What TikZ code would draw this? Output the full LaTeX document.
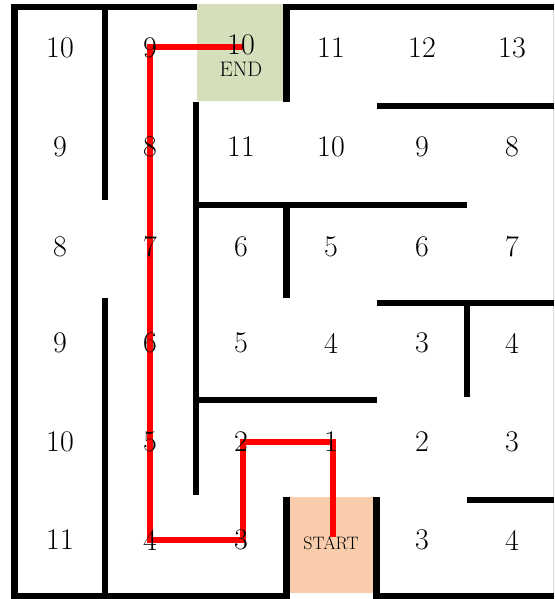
\documentclass[tikz,border=0pt]{standalone}
\begin{document}
\begin{tikzpicture}[x=1pt,y=-1pt,
  wall/.style={line width=6.5pt,black,line cap=butt},
  num/.style={font=\fontsize{30}{32}\selectfont,inner sep=0pt},
  lab/.style={font=\fontsize{21}{23}\selectfont,inner sep=0pt},
  slab/.style={font=\fontsize{18}{20}\selectfont,inner sep=0pt},
  route/.style={line width=6pt,red,line join=miter}]
\definecolor{endgreen}{RGB}{214,223,188}
\definecolor{startorange}{RGB}{249,205,172}
\useasboundingbox (0,0) rectangle (554,599);
\fill[white] (0,0) rectangle (554,599);
% coloured cells
\fill[endgreen] (197,4) rectangle (283,101);
\fill[startorange] (290,497) rectangle (373,593);
% faint right edge
\draw[gray!30,line width=0.8pt] (553.5,10) -- (553.5,593);
% outer walls
\draw[wall] (11,7) -- (197,7);
\draw[wall] (283,7) -- (554,7);
\draw[wall] (14.5,4) -- (14.5,599);
\draw[wall] (11,596) -- (290,596);
\draw[wall] (373,596) -- (554,596);
% vertical walls
\draw[wall] (105,7) -- (105,200);
\draw[wall] (105,298) -- (105,596);
\draw[wall] (196,102) -- (196,495);
\draw[wall] (286.5,7) -- (286.5,102);
\draw[wall] (286.5,202) -- (286.5,298);
\draw[wall] (286.5,497) -- (286.5,596);
\draw[wall] (376.5,497) -- (376.5,596);
\draw[wall] (467,300) -- (467,397);
% horizontal walls
\draw[wall] (377,106) -- (554,106);
\draw[wall] (193,205) -- (467,205);
\draw[wall] (377,303) -- (554,303);
\draw[wall] (193,400) -- (377,400);
\draw[wall] (467,500) -- (554,500);
% route (under the numbers)
\coordinate (pend) at (243,47);
\coordinate (p1) at (150,47);
\coordinate (p2) at (150,540);
\coordinate (p3) at (243,540);
\coordinate (p4) at (243,442);
\coordinate (p5) at (333,442);
\coordinate (pstart) at (333,537);
\draw[route] (pend) -- (p1) -- (p2) -- (p3) -- (p4) -- (p5) -- (pstart);
% row 0
\node[num] (a00) at (60,48) {10};
\node[num] (a01) at (150,48) {9};
\node[num] (a02) at (241,45) {10};
\node[lab] (endl) at (241,69) {END};
\node[num] (a03) at (331,48) {11};
\node[num] (a04) at (422,48) {12};
\node[num] (a05) at (512,48) {13};
% row 1
\node[num] (a10) at (60,147) {9};
\node[num] (a11) at (150,147) {8};
\node[num] (a12) at (241,147) {11};
\node[num] (a13) at (331,147) {10};
\node[num] (a14) at (422,147) {9};
\node[num] (a15) at (512,147) {8};
% row 2
\node[num] (a20) at (60,247) {8};
\node[num] (a21) at (150,247) {7};
\node[num] (a22) at (241,247) {6};
\node[num] (a23) at (331,247) {5};
\node[num] (a24) at (422,247) {6};
\node[num] (a25) at (512,247) {7};
% row 3
\node[num] (a30) at (60,343) {9};
\node[num] (a31) at (150,343) {6};
\node[num] (a32) at (241,343) {5};
\node[num] (a33) at (331,343) {4};
\node[num] (a34) at (422,343) {3};
\node[num] (a35) at (512,343) {4};
% row 4
\node[num] (a40) at (60,442) {10};
\node[num] (a41) at (150,442) {5};
\node[num] (a42) at (241,442) {2};
\node[num] (a43) at (331,442) {1};
\node[num] (a44) at (422,442) {2};
\node[num] (a45) at (512,442) {3};
% row 5
\node[num] (a50) at (60,540) {11};
\node[num] (a51) at (150,540) {4};
\node[num] (a52) at (241,540) {3};
\node[slab] (startl) at (331,543) {START};
\node[num] (a54) at (422,540) {3};
\node[num] (a55) at (512,540) {4};
\end{tikzpicture}
\end{document}
